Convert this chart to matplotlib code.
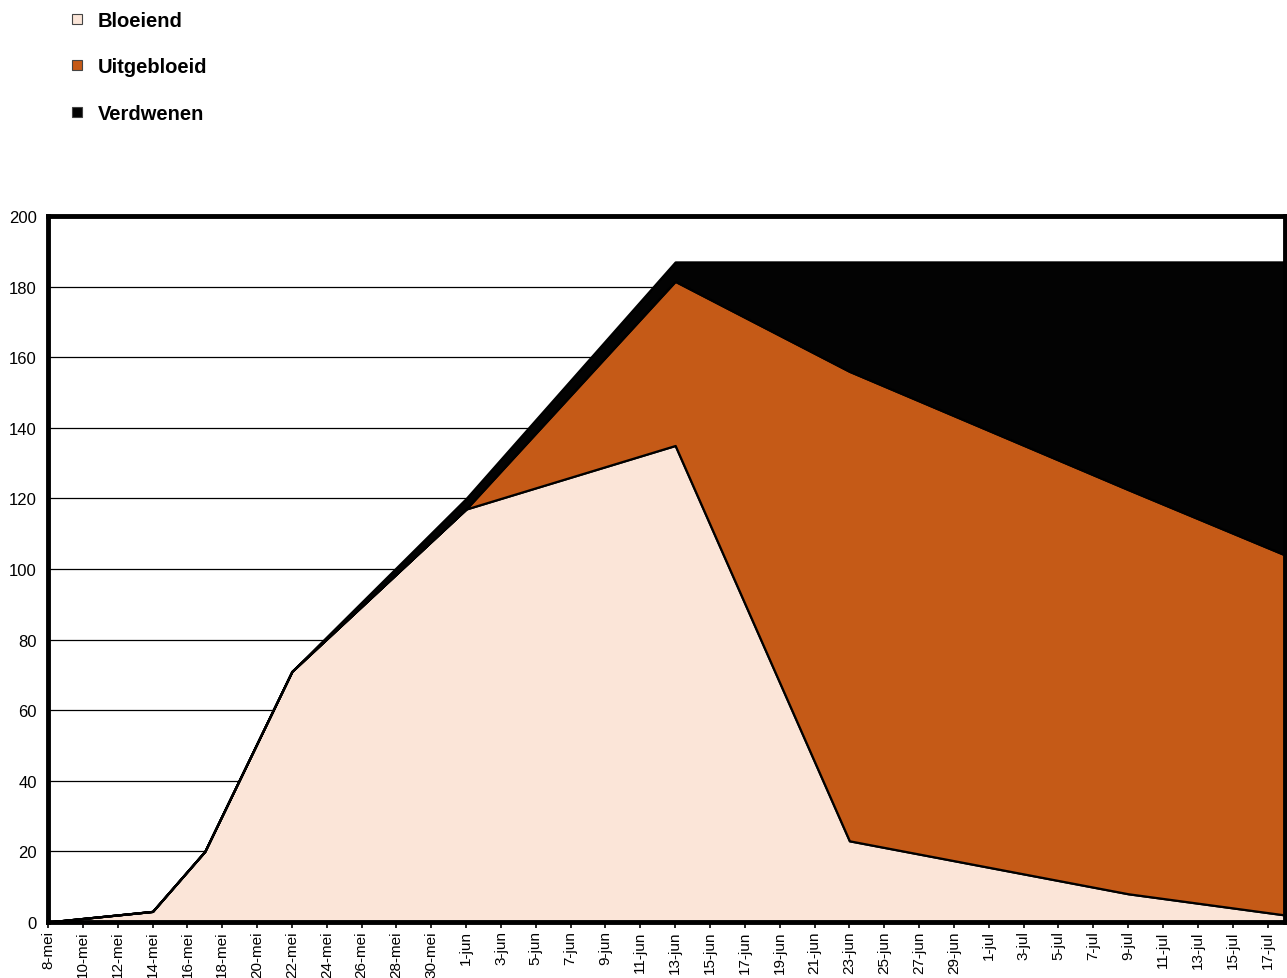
import matplotlib
matplotlib.use("Agg")
import matplotlib.pyplot as plt
from matplotlib.lines import Line2D
import numpy as np

plt.rcParams['font.family'] = ['Liberation Sans', 'DejaVu Sans']

# ---- data ----
dates = ['8-mei', '14-mei', '17-mei', '22-mei', '1-jun', '13-jun', '23-jun', '9-jul', '18-jul']
bloeiend = [0, 3, 20, 71, 117, 135, 23, 8, 2]
uitgebloeid = [0, 0, 0, 0, 0, 46.5, 133, 114.5, 102]
verdwenen = [0, 0, 0, 0, 3, 5.5, 31, 64.5, 83]
series_labels = ['Bloeiend', 'Uitgebloeid', 'Verdwenen']
colors = ['#FBE5D8', '#C55A17', '#030303']

month_offset = {'mei': 0, 'jun': 31, 'jul': 61}
def day_index(s):
    d, m = s.split('-')
    return int(d) - 8 + month_offset[m]

x = np.array([day_index(d) for d in dates])

# tick labels every 2 days from 8-mei to 17-jul
tick_labels = []
tick_pos = []
for i in range(0, 71, 2):
    day = 8 + i
    if day <= 31:
        tick_labels.append(f"{day}-mei")
    elif day <= 61:
        tick_labels.append(f"{day-31}-jun")
    else:
        tick_labels.append(f"{day-61}-jul")
    tick_pos.append(i)

fig = plt.figure(figsize=(12.87, 9.79), dpi=100)
ax = fig.add_axes([0.0373, 0.0572, 0.9611, 0.7211])

ax.stackplot(x, bloeiend, uitgebloeid, verdwenen, colors=colors,
             edgecolor='black', linewidth=1.6, zorder=2)

ax.set_xlim(0, 71)
ax.set_ylim(0, 200)
ax.set_yticks(range(0, 201, 20))
for yv in range(20, 200, 20):
    ax.axhline(yv, color='black', linewidth=0.9, zorder=1)

ax.set_xticks(tick_pos)
ax.set_xticklabels(tick_labels, rotation=90, fontsize=11)
ax.tick_params(axis='x', direction='out', length=4, width=1.2, pad=2)
ax.tick_params(axis='y', length=0, pad=8, labelsize=12)
for s in ax.spines.values():
    s.set_linewidth(3.5)
    s.set_color('black')
    s.set_zorder(5)

handles = [Line2D([], [], linestyle='none', marker='s', markersize=6.5,
                  markerfacecolor=c, markeredgecolor='#444444', markeredgewidth=0.8)
           for c in colors]
leg = fig.legend(handles, series_labels, loc='upper left', bbox_to_anchor=(0.041, 1.006),
                 frameon=False, handlelength=0.6, handletextpad=0.75,
                 labelspacing=1.35, prop={'weight': 'bold', 'size': 14.5})

fig.savefig('out.png', dpi=100)
